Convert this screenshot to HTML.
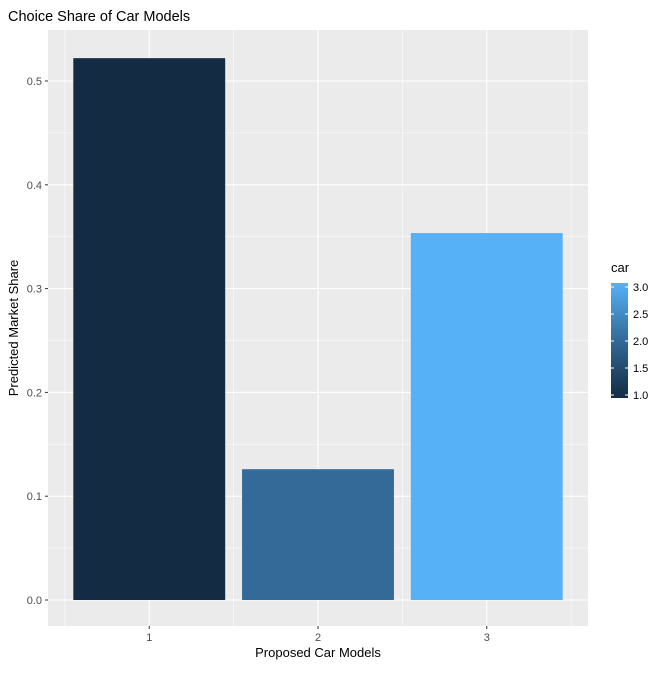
<!DOCTYPE html>
<html><head><meta charset="utf-8"><style>
body{margin:0;background:#fff;}
svg text{font-family:"Liberation Sans",Arial,sans-serif;}
</style></head><body>
<svg id="chart" width="672" height="672" xmlns="http://www.w3.org/2000/svg">
<defs><linearGradient id="cg" x1="0" y1="1" x2="0" y2="0">
<stop offset="0" stop-color="#132B43"/><stop offset="0.5" stop-color="#336A98"/><stop offset="1" stop-color="#56B1F7"/></linearGradient></defs>
<rect x="0" y="0" width="672" height="672" fill="#fff"/>
<text x="8" y="21" font-size="14.5" fill="#000">Choice Share of Car Models</text>
<rect x="48" y="30" width="540" height="596" fill="#EBEBEB"/>
<g id="grid"></g><g id="bars"></g><g id="axes"></g>
<text x="318" y="657" font-size="13" text-anchor="middle" fill="#000">Proposed Car Models</text>
<text transform="translate(18,328) rotate(-90)" font-size="13" text-anchor="middle" fill="#000">Predicted Market Share</text>
<g>
<text x="611" y="272" font-size="13" fill="#000">car</text>
<rect x="611" y="283" width="17" height="115" fill="url(#cg)"/>
<g id="leg"></g>
</g>
</svg>
<script>
const categories=[1,2,3];
const shares=[0.522,0.126,0.3535];
const yTicks=[0,0.1,0.2,0.3,0.4,0.5];
const yTickLabels=["0.0","0.1","0.2","0.3","0.4","0.5"];
const legendTicks=[1,1.5,2,2.5,3];
const legendLabels=["1.0","1.5","2.0","2.5","3.0"];
const NS="http://www.w3.org/2000/svg";
function X(v){return 48+(v-0.4)*(540/3.2);}
function Y(v){return 600-v*1038;}
function L(v){return 395-(v-1)*54;}
function col(v){const t=(v-1)/2;const s=[[0x13,0x2B,0x43],[0x33,0x6A,0x98],[0x56,0xB1,0xF7]];
 const k=t<=0.5?0:1,u=t<=0.5?t*2:(t-0.5)*2,a=s[k],b=s[k+1];
 return "rgb("+a.map((c,i)=>Math.round(c+(b[i]-c)*u)).join(",")+")";}
function mk(p,tag,at){const e=document.createElementNS(NS,tag);for(const k in at)e.setAttribute(k,at[k]);p.appendChild(e);return e;}
const g=document.getElementById("grid"),b=document.getElementById("bars"),ax=document.getElementById("axes"),lg=document.getElementById("leg");
for(let i=0;i<yTicks.length;i++){
 const y=Y(yTicks[i]);
 const ln=mk(g,"line",{x1:48,x2:588,y1:y,y2:y,stroke:"#fff","stroke-width":1.1});
 
 
 const ym=Y(yTicks[i]+0.05);
 if(ym>30){const m=mk(g,"line",{x1:48,x2:588,y1:ym,y2:ym,stroke:"#fff","stroke-width":0.5});
 
 }
 const t=mk(ax,"text",{x:42,y:y+4,"font-size":11,"text-anchor":"end",fill:"#4D4D4D"});t.textContent=yTickLabels[i];
 
 
 mk(ax,"line",{x1:45,x2:48,y1:y,y2:y,stroke:"#333"});
}
for(const v of [0.5,1.5,2.5,3.5]){const m=mk(g,"line",{x1:X(v),x2:X(v),y1:30,y2:626,stroke:"#fff","stroke-width":0.5});
 
 }
for(let i=0;i<categories.length;i++){
 const c=categories[i],x=X(c);
 mk(g,"line",{x1:x,x2:x,y1:30,y2:626,stroke:"#fff","stroke-width":1.1});
 const r=mk(b,"rect",{x:X(c-0.45),y:Y(shares[i]),width:X(c+0.45)-X(c-0.45),height:Y(0)-Y(shares[i]),fill:col(c)});
 
 
 mk(ax,"line",{x1:x,x2:x,y1:626,y2:629,stroke:"#333"});
 const t=mk(ax,"text",{x:x,y:641,"font-size":11,"text-anchor":"middle",fill:"#4D4D4D"});t.textContent=c;
 
 
}
for(let i=0;i<legendTicks.length;i++){
 const y=L(legendTicks[i]);
 mk(lg,"line",{x1:611,x2:614,y1:y,y2:y,stroke:"#fff"});
 mk(lg,"line",{x1:625,x2:628,y1:y,y2:y,stroke:"#fff"});
 const t=mk(lg,"text",{x:633,y:y+4,"font-size":11,fill:"#000"});t.textContent=legendLabels[i];
 
 
}
</script>
</body></html>
